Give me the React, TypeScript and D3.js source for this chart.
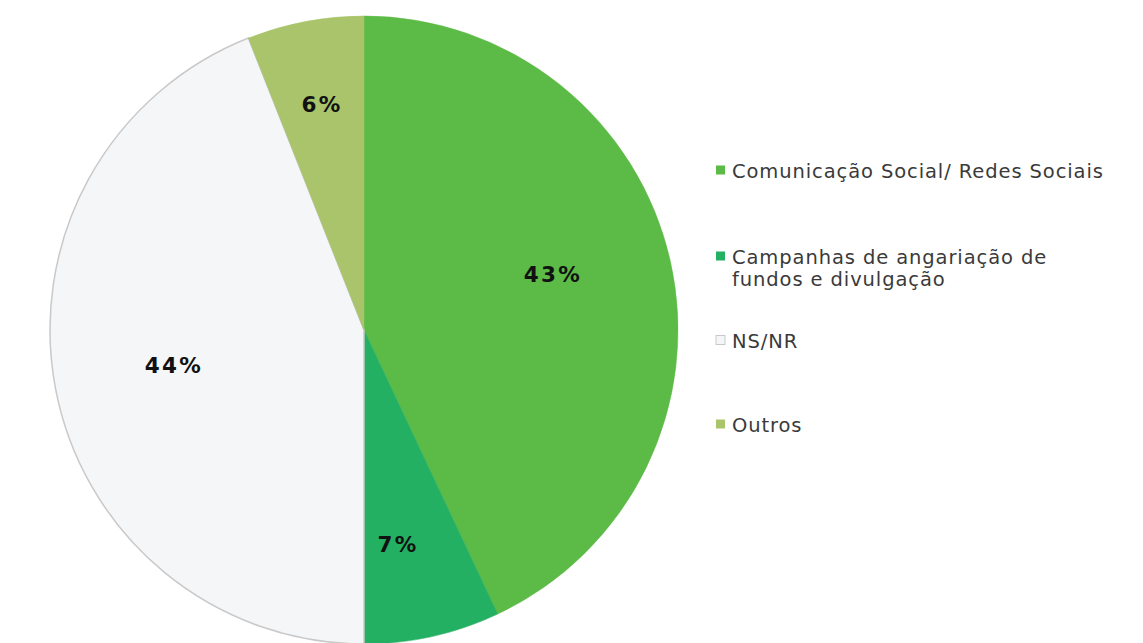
import React from "react";
import * as d3 from "d3";

const categories = [
  "Comunicação Social/ Redes Sociais",
  "Campanhas de angariação de fundos e divulgação",
  "NS/NR",
  "Outros",
];
const values = [43, 7, 44, 6];
const colors = ["#5cba47", "#24b062", "#f5f6f7", "#a9c46b"];
const legendLines = [
  ["Comunicação Social/ Redes Sociais"],
  ["Campanhas de angariação de", "fundos e divulgação"],
  ["NS/NR"],
  ["Outros"],
];

const W = 1143;
const H = 643;
const cx = 364;
const cy = 330;
const R = 314;
// label placement (layout only): radius fraction and small nudges like Excel's best fit
const labelRadius = [0.6, 0.7, 0.61, 0.73];
const labelNudge: [number, number][] = [
  [4, -14],
  [-15, 0],
  [-3, 0],
  [0, 0],
];
const legendYs = [170, 256, 340, 424];

export default function App() {
  const pie = d3.pie<number>().sort(null).value((d) => d)(values);
  const arc = d3.arc<d3.PieArcDatum<number>>().innerRadius(0).outerRadius(R);
  return (
    <svg
      width={W}
      height={H}
      style={{ position: "absolute", left: 0, top: 0, background: "#fff" }}
      fontFamily="DejaVu Sans, Verdana, sans-serif"
    >
      <rect width={W} height={H} fill="#ffffff" />
      <g transform={`translate(${cx},${cy})`}>
        {pie.map((p, i) => (
          <path
            key={i}
            d={arc(p) || ""}
            fill={colors[i]}
            stroke={i === 2 ? "#c9c9c9" : colors[i]}
            strokeWidth={i === 2 ? 1.5 : 0.5}
          />
        ))}
        {pie.map((p, i) => {
          const r = R * labelRadius[i];
          const a = (p.startAngle + p.endAngle) / 2;
          const x = r * Math.sin(a) + labelNudge[i][0];
          const y = -r * Math.cos(a) + labelNudge[i][1];
          return (
            <text
              key={"l" + i}
              x={x + 1}
              y={y}
              textAnchor="middle"
              dominantBaseline="central"
              fontSize={21.5}
              fontWeight="bold"
              letterSpacing={2.2}
              fill="#111"
            >
              {p.value}%
            </text>
          );
        })}
      </g>
      {categories.map((c, i) => {
        const y0 = legendYs[i];
        return (
          <g key={"lg" + i}>
            <rect
              x={716}
              y={y0 - 4.5}
              width={9}
              height={9}
              fill={colors[i]}
              stroke={i === 2 ? "#c9c9c9" : "none"}
              strokeWidth={1}
            />
            {legendLines[i].map((ln, j) => (
              <text
                key={j}
                x={732}
                y={y0 + 1 + j * 22}
                dominantBaseline="central"
                fontSize={19.5}
                letterSpacing={0.9}
                fill="#3a3a3a"
              >
                {ln}
              </text>
            ))}
          </g>
        );
      })}
    </svg>
  );
}
